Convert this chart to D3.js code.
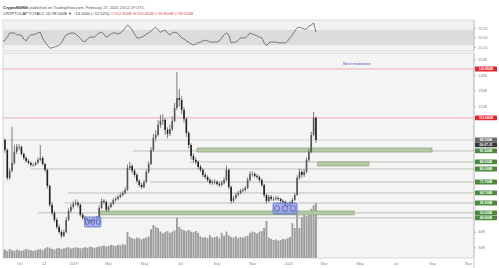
<!DOCTYPE html>
<html>
<head>
<meta charset="utf-8">
<script src="https://cdn.jsdelivr.net/npm/d3@7"></script>
<style>
html, body { margin: 0; padding: 0; background: #fff; }
svg { display: block; font-family: "Liberation Sans", Arial, sans-serif; }
</style>
</head>
<body>
<div id="chart"></div>
<script>
// daily candles aggregated to 4-day bars, starting 2018-09-03
const startDate = "2018-09-03";
const stepDays = 4;

const closes = [98.5,92.1,74.3,78.8,83.9,90.9,94.1,94.1,89.6,87.0,
  85.1,83.9,82.6,82.6,83.9,85.8,87.0,83.2,79.4,69.2,
  57.1,52.0,47.5,43.0,39.8,37.3,39.8,47.5,53.2,55.8,
  57.7,58.3,57.1,50.7,48.8,48.1,47.5,46.2,46.9,48.1,
  48.8,55.1,59.6,59.0,53.9,55.8,57.7,60.2,60.9,62.2,
  63.4,64.7,66.6,80.7,81.9,78.8,76.2,72.4,69.8,68.5,
  71.7,78.1,83.2,92.1,99.8,101.7,108.1,110.7,111.3,104.9,
  102.4,105.5,110.7,118.9,125.3,124.0,117.7,111.9,103.0,95.3,
  88.3,85.8,84.5,81.3,79.4,76.2,74.9,73.0,71.1,71.7,
  71.7,70.5,69.8,71.1,73.0,79.4,68.5,59.6,61.5,63.4,
  64.7,66.0,66.6,67.9,73.0,76.8,76.8,75.6,74.9,73.0,
  69.8,63.4,59.6,62.2,60.9,60.9,61.5,60.9,59.6,59.0,
  57.1,56.4,58.3,60.2,63.4,74.3,78.1,76.2,78.1,85.8,
  90.9,101.7,112.6,98.5];

const highs = [102.0,99.6,93.0,80.5,106.8,95.2,96.0,95.8,95.0,90.4,
  88.1,86.3,84.8,83.9,85.0,87.2,95.3,88.2,84.0,80.1,
  70.0,58.9,53.4,48.9,44.5,41.0,41.2,49.3,55.0,57.6,
  59.4,60.6,59.8,58.0,51.9,50.0,49.2,48.3,48.0,49.4,
  50.1,56.7,61.2,60.8,59.7,57.1,58.9,61.5,62.4,63.6,
  64.9,66.0,68.3,82.9,84.5,83.0,80.0,77.3,73.5,71.2,
  73.0,79.6,84.8,94.0,102.4,104.8,111.2,114.6,115.0,112.4,
  106.5,108.3,113.5,122.1,141.9,131.0,126.2,119.5,113.0,104.1,
  96.4,90.0,87.3,85.6,82.7,80.5,77.8,76.0,74.2,73.1,
  73.4,72.8,71.9,72.6,74.8,82.1,80.2,69.4,63.0,64.9,
  66.1,67.3,68.0,69.2,74.6,78.5,78.6,78.0,76.9,75.8,
  73.9,70.6,64.2,63.5,63.3,62.2,62.8,62.6,61.7,60.6,
  59.8,58.2,59.5,61.6,64.8,76.0,80.2,79.6,79.8,87.4,
  92.6,103.8,116.4,113.4];

const lows = [96.5,90.4,72.8,73.1,77.9,82.7,89.5,91.9,88.4,85.7,
  84.0,82.8,81.5,81.3,81.9,83.0,84.9,82.1,78.0,67.5,
  55.8,50.4,46.0,41.8,38.6,35.9,36.5,39.0,46.8,52.1,
  54.6,56.5,55.4,49.5,47.6,47.0,46.4,45.1,45.3,46.0,
  47.2,48.0,54.3,57.6,52.6,53.0,55.0,56.9,59.3,60.0,
  61.3,62.5,63.8,65.9,79.2,77.1,74.6,71.0,68.4,67.3,
  67.6,70.9,77.0,82.5,91.0,97.6,100.9,106.3,108.0,101.8,
  99.6,101.0,104.2,109.6,117.5,119.8,115.0,109.4,100.5,93.0,
  86.1,84.2,83.0,79.8,78.1,74.9,73.6,71.8,69.9,70.0,
  70.2,69.1,68.4,68.9,70.2,72.1,67.0,57.9,58.6,60.6,
  62.5,63.9,65.1,65.8,67.1,72.2,75.1,74.3,73.6,71.7,
  68.5,61.9,58.0,58.8,59.8,59.5,59.9,59.7,58.5,57.8,
  56.0,55.3,55.8,57.5,59.6,62.8,73.1,74.4,75.0,77.2,
  84.6,90.0,100.8,96.8];

const volumes = [13,14,12,15,13,12,14,13,12,13,15,14,13,12,13,14,15,13,16,18,17,15,14,16,17,15,
  16,17,18,16,17,18,17,16,17,18,17,19,18,17,18,19,
  20,21,19,20,22,21,20,22,21,23,22,
  43,35,33,32,34,33,31,33,34,36,
  48,55,52,50,44,41,43,45,42,44,46,
  67,52,48,46,45,47,44,43,45,42,
  36,34,35,33,38,34,35,36,33,42,37,44,38,35,34,36,33,35,34,36,37,
  42,44,43,41,44,45,50,62,
  34,32,30,31,29,30,32,31,33,35,
  58,50,77,50,68,72,70,75,82,88,92];

const rsi = [38,43,51,62,62,62,57,57,56,46,
  41,51,57,57,59,62,64,48,38,30,
  22,23,25,27,30,36,48,57,59,62,
  62,59,54,48,41,38,46,51,51,51,
  57,62,64,59,51,54,59,62,62,59,
  62,67,75,83,78,70,59,49,49,51,
  54,59,62,67,72,77,70,64,67,70,
  62,57,62,64,62,57,49,46,41,38,
  33,30,33,36,38,41,43,41,38,38,
  38,38,41,49,57,62,57,36,38,38,
  43,49,49,49,54,62,59,57,54,51,
  49,36,28,36,38,38,38,36,36,36,
  36,41,49,57,67,75,77,75,72,72,
  80,83,88,64];

const priceTicks = [30, 40, 50, 60, 70, 80, 90, 100, 110, 120, 130, 140, 150];
const rsiTicks = [75, 50, 25];
const rsiBand = [30, 70];
const timeTickDates = ["2018-10-01","2018-11-12","2019-01-01","2019-03-01","2019-05-01","2019-07-01","2019-09-01","2019-11-01","2020-01-01","2020-03-01","2020-05-01","2020-07-01","2020-09-01","2020-11-01"];
const timeTickLabels = ["Oct","12","2019","Mar","May","Jul","Sep","Nov","2020","Mar","May","Jul","Sep","Nov"];

// drawn levels
const resistanceLevels = [143.8, 112.6];
const supportLevels = [91.5, 84.5, 80.0, 71.7, 64.7, 58.3, 52.0, 48.8];
const supportStarts = ["2019-04-12","2019-07-18","2018-10-20","2019-05-11","2018-12-23","2018-12-18","2018-11-02","2019-02-15"];
const zoneStarts = ["2019-07-30", "2020-02-20", "2019-02-15"];
const zoneEnds = ["2020-09-01", "2020-05-17", "2020-04-22"];
const zoneTops = [93.4, 84.5, 53.2];
const zoneBottoms = [90.8, 81.9, 50.7];
const boxStarts = ["2019-01-20", "2019-12-06"];
const boxEnds = ["2019-02-17", "2020-01-16"];
const boxTops = [49.4, 58.3];
const boxBottoms = [43.0, 51.3];
const noteText = "Next resistance";
const noteDate = "2020-04-03";
const noteValue = 146.4;

const W = 499, H = 268;
const parse = d3.timeParse("%Y-%m-%d");
const t0 = parse(startDate);
const dates = closes.map((c, i) => d3.timeDay.offset(t0, i * stepDays));
const bars = closes.map((c, i) => ({
  date: dates[i],
  open: i === 0 ? c : closes[i - 1],
  close: c, high: highs[i], low: lows[i],
  vol: volumes[i], rsi: rsi[i]
}));

const left = 3, right = 474;
const mainTop = 53, mainBottom = 258;
const rsiTop = 20, rsiBottom = 51;
const labelH = 4.8;

const x = d3.scaleTime()
  .domain([parse("2018-09-02"), parse("2020-11-13")])
  .range([2, 475]);
const y = d3.scaleLinear().domain([23.2, 154.0]).range([mainBottom, mainTop]);
const yVol = d3.scaleLinear().domain([0, 100]).range([mainBottom, 198]);
const yRsi = d3.scaleLinear().domain([0, 100]).range([56.5, 18.5]);

const svg = d3.select("#chart").append("svg")
  .attr("width", W).attr("height", H);

svg.append("rect").attr("width", W).attr("height", H).attr("fill", "#fff");

const defs = svg.append("defs");
defs.append("clipPath").attr("id", "clipMain").append("rect")
  .attr("x", left).attr("y", mainTop).attr("width", right - left).attr("height", mainBottom - mainTop);
defs.append("clipPath").attr("id", "clipRsi").append("rect")
  .attr("x", left).attr("y", rsiTop).attr("width", right - left).attr("height", rsiBottom - rsiTop);

// header
const last = bars[bars.length - 1];
const fmtB = v => d3.format(".3f")(v) + "B";
const head1 = svg.append("text").attr("x", 3).attr("y", 9).attr("font-size", 4).attr("fill", "#555");
head1.append("tspan").attr("font-weight", "bold").attr("fill", "#333").text("CryptoNikNik");
head1.append("tspan").text(" published on TradingView.com, February 17, 2020 23:52:29 UTC");
const head2 = svg.append("text").attr("x", 3).attr("y", 15).attr("font-size", 4).attr("fill", "#333");
head2.append("tspan").text("CRYPTOCAP:TOTAL2, 1D " + fmtB(last.close) + " ▼ −" + d3.format(".4f")(last.open - last.close) + " (−" + d3.format(".2f")((last.open - last.close) / last.open * 100) + "%) ");
head2.append("tspan").attr("fill", "#e0434a").text("O:" + fmtB(last.open) + " H:" + fmtB(last.high) + " L:" + fmtB(last.low) + " C:" + fmtB(last.close));

// RSI panel
svg.append("rect").attr("x", left).attr("y", rsiTop).attr("width", right - left).attr("height", rsiBottom - rsiTop)
  .attr("fill", "#f2f2f2").attr("stroke", "#d4d4d4").attr("stroke-width", 0.8);
svg.append("rect").attr("x", left).attr("y", yRsi(rsiBand[1])).attr("width", right - left)
  .attr("height", yRsi(rsiBand[0]) - yRsi(rsiBand[1])).attr("fill", "#dcdcdc");
svg.append("path").datum(bars)
  .attr("clip-path", "url(#clipRsi)")
  .attr("fill", "none").attr("stroke", "#4a4a4a").attr("stroke-width", 0.7)
  .attr("d", d3.line().x(d => x(d.date)).y(d => yRsi(d.rsi)));

const rsiAxis = svg.append("g").attr("transform", `translate(${right},0)`)
  .call(d3.axisRight(yRsi).tickValues(rsiTicks).tickSize(2).tickPadding(2).tickFormat(d3.format(".2f")));
rsiAxis.select(".domain").remove();
rsiAxis.selectAll("text").attr("font-size", 3.8).attr("fill", "#888");
rsiAxis.selectAll("line").attr("stroke", "#bbb");
svg.append("line").attr("x1", right).attr("x2", right).attr("y1", rsiTop).attr("y2", rsiBottom).attr("stroke", "#bbb").attr("stroke-width", 0.8);

// main panel
svg.append("rect").attr("x", left).attr("y", mainTop).attr("width", right - left).attr("height", mainBottom - mainTop)
  .attr("fill", "#f4f4f4").attr("stroke", "#cfcfcf").attr("stroke-width", 0.8);

const plot = svg.append("g").attr("clip-path", "url(#clipMain)");

// volume
plot.selectAll(".vol").data(bars).enter().append("rect")
  .attr("class", "vol")
  .attr("x", d => x(d.date) - 0.95).attr("width", 1.9)
  .attr("y", d => yVol(d.vol)).attr("height", d => mainBottom - yVol(d.vol))
  .attr("fill", "#9c9c9c");

// level lines
resistanceLevels.forEach(v => {
  plot.append("line").attr("x1", left).attr("x2", right).attr("y1", y(v)).attr("y2", y(v))
    .attr("stroke", "#ef9aa0").attr("stroke-width", 0.8);
});
plot.append("line").attr("x1", left).attr("x2", right).attr("y1", y(last.close)).attr("y2", y(last.close))
  .attr("stroke", "#c8c8c8").attr("stroke-width", 0.8);
supportLevels.forEach((v, i) => {
  plot.append("line").attr("x1", x(parse(supportStarts[i]))).attr("x2", right).attr("y1", y(v)).attr("y2", y(v))
    .attr("stroke", "#a9b5a2").attr("stroke-width", 0.8);
});
zoneStarts.forEach((s, i) => {
  plot.append("rect")
    .attr("x", x(parse(s))).attr("width", x(parse(zoneEnds[i])) - x(parse(s)))
    .attr("y", y(zoneTops[i])).attr("height", y(zoneBottoms[i]) - y(zoneTops[i]))
    .attr("fill", "#b4c8a6").attr("stroke", "#82a072").attr("stroke-width", 0.6);
});

// candles
const candles = plot.selectAll(".candle").data(bars).enter().append("g").attr("class", "candle");
candles.append("line")
  .attr("x1", d => x(d.date)).attr("x2", d => x(d.date))
  .attr("y1", d => y(d.high)).attr("y2", d => y(d.low))
  .attr("stroke", "#2e2e2e").attr("stroke-width", 0.6);
candles.append("rect")
  .attr("x", d => x(d.date) - 0.8).attr("width", 1.6)
  .attr("y", d => y(Math.max(d.open, d.close)))
  .attr("height", d => Math.max(0.6, Math.abs(y(d.open) - y(d.close))))
  .attr("fill", d => d.close >= d.open ? "#555" : "#1f1f1f");

// pattern boxes
boxStarts.forEach((s, i) => {
  const bx = x(parse(s)), bw = x(parse(boxEnds[i])) - bx;
  const by = y(boxTops[i]), bh = y(boxBottoms[i]) - by;
  plot.append("rect").attr("x", bx).attr("y", by).attr("width", bw).attr("height", bh)
    .attr("rx", 1.5).attr("fill", "#8e99e8").attr("fill-opacity", 0.75)
    .attr("stroke", "#4354c9").attr("stroke-width", 0.6);
  d3.range(3).forEach(k => {
    plot.append("ellipse").attr("cx", bx + bw * (k + 0.5) / 3).attr("cy", by + bh / 2)
      .attr("rx", bw / 9).attr("ry", bh / 4)
      .attr("fill", "none").attr("stroke", "#27348f").attr("stroke-width", 0.5);
  });
});

plot.append("text").attr("x", x(parse(noteDate))).attr("y", y(noteValue))
  .attr("font-size", 4).attr("fill", "#3b4fc4").text(noteText);

// price axis (ticks hidden where a level label sits, as TradingView does)
const labelValues = resistanceLevels.concat(supportLevels, [last.close]);
const shownTicks = priceTicks.filter(t => labelValues.every(v => Math.abs(y(t) - y(v)) > 5) && Math.abs(y(t) - y(last.close) - 5) > 5);
const yAxis = svg.append("g").attr("transform", `translate(${right},0)`)
  .call(d3.axisRight(y).tickValues(shownTicks).tickSize(2).tickPadding(2).tickFormat(d => d + "B"));
yAxis.select(".domain").remove();
yAxis.selectAll("text").attr("font-size", 3.8).attr("fill", "#888");
yAxis.selectAll("line").attr("stroke", "#bbb");
svg.append("line").attr("x1", right).attr("x2", right).attr("y1", mainTop).attr("y2", H).attr("stroke", "#bbb").attr("stroke-width", 0.8);

// time axis
const xAxis = svg.append("g").attr("transform", `translate(0,${mainBottom})`)
  .call(d3.axisBottom(x).tickValues(timeTickDates.map(parse)).tickSize(0).tickPadding(4)
    .tickFormat((d, i) => timeTickLabels[i]));
xAxis.select(".domain").remove();
xAxis.selectAll("text").attr("font-size", 3.8).attr("fill", "#888");

// axis labels
function axisLabel(yc, text, fill) {
  const g = svg.append("g");
  g.append("rect").attr("x", right + 1).attr("y", yc - labelH / 2).attr("width", 22).attr("height", labelH)
    .attr("fill", fill).attr("rx", 0.5);
  g.append("text").attr("x", right + 12).attr("y", yc + 1.2).attr("text-anchor", "middle")
    .attr("font-size", 3.3).attr("font-weight", "bold").attr("fill", "#fff").text(text);
}
resistanceLevels.forEach(v => axisLabel(y(v), fmtB(v), "#e8252d"));
supportLevels.forEach(v => axisLabel(y(v), fmtB(v), "#4b8a3c"));
axisLabel(y(last.close), fmtB(last.close), "#6b6b6b");
axisLabel(y(last.close) + labelH, "00:07:31", "#3a3a3a");
</script>
</body>
</html>
